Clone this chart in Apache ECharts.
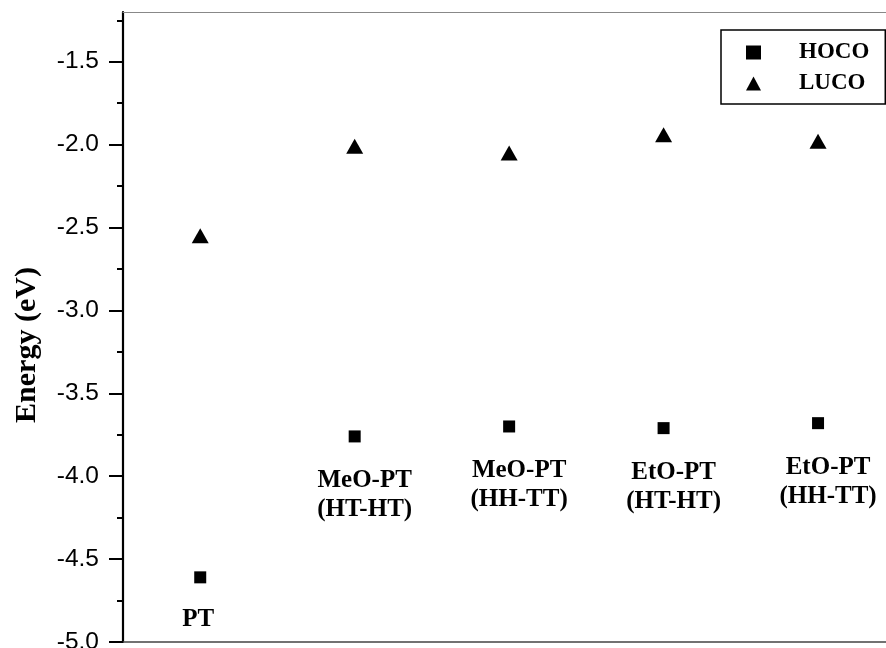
<!DOCTYPE html>
<html>
<head>
<meta charset="utf-8">
<script src="https://cdn.jsdelivr.net/npm/echarts@6/dist/echarts.min.js"></script>
<style>
  html, body { margin: 0; padding: 0; background: #fff; }
  #chart { width: 886px; height: 648px; }
</style>
</head>
<body>
<div id="chart"></div>
<script>
// Frontier orbital energies of polythiophene and its alkoxy derivatives
const categories = ['PT', 'MeO-PT\n(HT-HT)', 'MeO-PT\n(HH-TT)', 'EtO-PT\n(HT-HT)', 'EtO-PT\n(HH-TT)'];
const hocoValues = [-4.61, -3.76, -3.70, -3.71, -3.68];
const lucoValues = [-2.55, -2.01, -2.05, -1.94, -1.98];
const majorTicks = [-5.0, -4.5, -4.0, -3.5, -3.0, -2.5, -2.0, -1.5];
const minorTicks = [-4.75, -4.25, -3.75, -3.25, -2.75, -2.25, -1.75, -1.25];

const serif = '"Liberation Serif", "Times New Roman", serif';
const sans = '"Liberation Sans", Arial, sans-serif';

const chart = echarts.init(document.getElementById('chart'), null, { renderer: 'canvas' });

const hocoData = hocoValues.map((v, i) => [i + 1, v]);
const lucoData = lucoValues.map((v, i) => [i + 1, v]);

chart.setOption({
  animation: false,
  backgroundColor: '#fff',
  grid: { left: 123, right: 0, top: 12, bottom: 6, containLabel: false, outerBoundsMode: 'none' },
  legend: {
    orient: 'vertical',
    left: 721,
    top: 30,
    padding: [11, 16, 9, 25],
    itemGap: 8,
    itemWidth: 15,
    itemHeight: 14,
    borderColor: '#000',
    borderWidth: 1.5,
    selectedMode: false,
    textStyle: {
      fontFamily: serif, fontWeight: 'bold', fontSize: 23, color: '#000',
      padding: [0, 0, 0, 33]
    },
    data: ['HOCO', 'LUCO']
  },
  xAxis: [
    {
      type: 'value', position: 'bottom', min: 0.5, max: 5.44,
      axisLine: { show: true, lineStyle: { color: '#444', width: 1.5 } },
      axisTick: { show: false }, axisLabel: { show: false }, splitLine: { show: false }
    },
    {
      type: 'value', position: 'top', min: 0.5, max: 5.44,
      axisLine: { show: true, lineStyle: { color: '#888', width: 1.2 } },
      axisTick: { show: false }, axisLabel: { show: false }, splitLine: { show: false }
    }
  ],
  yAxis: [
    {
      type: 'value', min: -5, max: -1.2, interval: 0.5, position: 'left',
      name: 'Energy (eV)', nameLocation: 'middle', nameRotate: 90, nameGap: 81,
      nameTextStyle: { fontFamily: serif, fontWeight: 'bold', fontSize: 30, color: '#000', padding: [0, 36, 0, 0] },
      axisLine: { show: true, lineStyle: { color: '#000', width: 2.2 } },
      axisTick: { show: true, inside: false, length: 14, lineStyle: { color: '#000', width: 2 }, customValues: majorTicks },
      axisLabel: {
        fontFamily: sans, fontSize: 24.5, color: '#000', margin: 24,
        customValues: majorTicks,
        formatter: v => v.toFixed(1)
      },
      splitLine: { show: false }
    },
    {
      type: 'value', min: -5, max: -1.2, position: 'left',
      axisLine: { show: false },
      axisTick: { show: true, inside: false, length: 6, lineStyle: { color: '#000', width: 2 }, customValues: minorTicks },
      axisLabel: { show: false },
      splitLine: { show: false }
    }
  ],
  series: [
    {
      name: 'HOCO', type: 'scatter', symbol: 'rect', symbolSize: 12,
      itemStyle: { color: '#000', opacity: 1 },
      data: hocoData,
      label: {
        show: true, position: 'bottom', distance: 24,
        formatter: p => categories[p.dataIndex],
        fontFamily: serif, fontWeight: 'bold', fontSize: 25, lineHeight: 29, color: '#000',
        align: 'center'
      },
      labelLayout: p => (p.dataIndex === 0 ? { dx: -2, dy: -2 } : { dx: 10 })
    },
    {
      name: 'LUCO', type: 'scatter', symbol: 'triangle', symbolSize: [17, 15],
      itemStyle: { color: '#000', opacity: 1 },
      data: lucoData
    }
  ]
});
</script>
</body>
</html>
